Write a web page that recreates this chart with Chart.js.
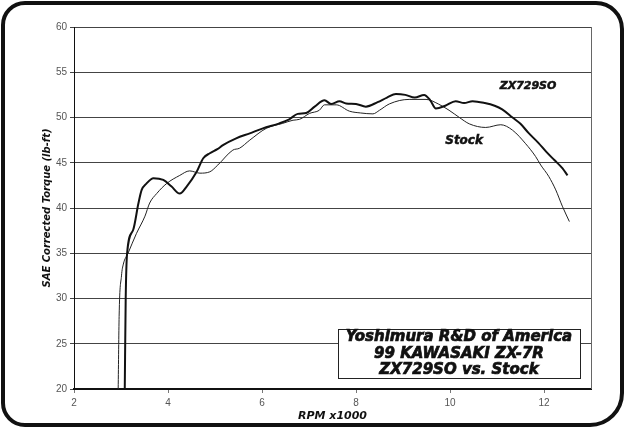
<!DOCTYPE html>
<html>
<head>
<meta charset="utf-8">
<script src="https://cdn.jsdelivr.net/npm/chart.js@4.4.0/dist/chart.umd.min.js"></script>
<style>
  html, body { margin: 0; padding: 0; background: #fff; }
  canvas { display: block; }
</style>
</head>
<body>
<canvas id="dynoChart" width="625" height="429"></canvas>
<script>
// ZX729SO (pipe) run
const zxRpm = [3.08, 3.10, 3.13, 3.26, 3.37, 3.44, 3.54, 3.69, 3.90, 4.07, 4.25, 4.40, 4.61, 4.75, 4.89, 5.05, 5.17, 5.45, 5.74, 6.02, 6.37, 6.58, 6.76, 6.94, 7.12, 7.33, 7.47, 7.65, 7.79, 8.00, 8.21, 8.46, 8.66, 8.85, 9.05, 9.25, 9.45, 9.58, 9.70, 9.90, 10.12, 10.30, 10.48, 10.74, 10.95, 11.11, 11.33, 11.50, 11.67, 11.88, 12.05, 12.22, 12.39, 12.50];
const zxTorque = [20, 30, 35.0, 37.6, 40.5, 42.0, 42.7, 43.3, 43.1, 42.4, 41.6, 42.4, 44.0, 45.5, 46.05, 46.5, 46.95, 47.7, 48.25, 48.8, 49.35, 49.8, 50.4, 50.5, 51.2, 51.9, 51.5, 51.8, 51.55, 51.5, 51.2, 51.7, 52.2, 52.6, 52.5, 52.2, 52.5, 51.9, 51.0, 51.3, 51.8, 51.6, 51.8, 51.6, 51.3, 50.9, 50.0, 49.3, 48.3, 47.2, 46.2, 45.3, 44.4, 43.6];

// Stock run
const stockRpm = [2.94, 2.96, 3.01, 3.05, 3.15, 3.33, 3.51, 3.61, 3.76, 3.97, 4.25, 4.46, 4.68, 4.89, 5.06, 5.38, 5.52, 5.74, 6.09, 6.44, 6.66, 6.80, 7.01, 7.22, 7.33, 7.58, 7.86, 8.10, 8.36, 8.50, 8.71, 9.13, 9.49, 9.75, 9.98, 10.20, 10.41, 10.76, 11.08, 11.33, 11.61, 11.82, 11.93, 12.10, 12.25, 12.39, 12.54];
const stockTorque = [20, 28, 32.5, 33.8, 35.0, 37.2, 39.1, 40.55, 41.6, 42.7, 43.6, 44.1, 43.85, 44.0, 44.75, 46.4, 46.6, 47.5, 48.8, 49.35, 49.7, 49.8, 50.45, 50.8, 51.4, 51.4, 50.7, 50.5, 50.4, 50.8, 51.5, 52.0, 52.0, 51.5, 50.8, 50.0, 49.3, 48.9, 49.2, 48.6, 47.1, 45.7, 44.75, 43.5, 42.0, 40.2, 38.5];

const boxLines = ['Yoshimura R&D of America', '99 KAWASAKI ZX-7R', 'ZX729SO vs. Stock'];
const heavyFont = '"DejaVu Sans", sans-serif';

function toPoints(xs, ys) {
    return xs.map((x, i) => ({ x: x, y: ys[i] }));
}

// texto con trazo extra para que se vea mas grueso
function heavyText(ctx, text, x, y, stroke) {
    ctx.lineWidth = stroke;
    ctx.strokeStyle = '#111';
    ctx.strokeText(text, x, y);
    ctx.fillText(text, x, y);
}

// marco redondeado, borde derecho del area, etiquetas y recuadro
const decorations = {
    id: 'decorations',
    afterDraw(chart) {
        const ctx = chart.ctx;
        const area = chart.chartArea;
        const xs = chart.scales.x;
        const ys = chart.scales.y;
        ctx.save();

        ctx.strokeStyle = '#666';
        ctx.lineWidth = 1;
        ctx.beginPath();
        ctx.moveTo(area.right + 0.5, area.top);
        ctx.lineTo(area.right + 0.5, area.bottom);
        ctx.stroke();

        ctx.fillStyle = '#111';
        ctx.textAlign = 'center';
        ctx.textBaseline = 'middle';
        ctx.font = 'italic bold 11px ' + heavyFont;
        heavyText(ctx, 'ZX729SO', xs.getPixelForValue(11.66), ys.getPixelForValue(53.45), 0.5);
        ctx.font = 'italic bold 12px ' + heavyFont;
        heavyText(ctx, 'Stock', xs.getPixelForValue(10.3), ys.getPixelForValue(47.4), 0.5);

        // recuadro de titulo
        const bx = 338, by = 329, bw = 242, bh = 49;
        ctx.fillStyle = '#fff';
        ctx.fillRect(bx, by, bw, bh);
        ctx.strokeStyle = '#222';
        ctx.lineWidth = 1;
        ctx.strokeRect(bx + 0.5, by + 0.5, bw, bh);
        ctx.fillStyle = '#111';
        ctx.font = 'italic bold 15px ' + heavyFont;
        boxLines.forEach((t, i) => {
            heavyText(ctx, t, bx + bw / 2, by + 8.5 + i * 16.5, 0.7);
        });

        ctx.strokeStyle = '#111';
        ctx.lineWidth = 4;
        ctx.beginPath();
        ctx.roundRect(3, 3, 619, 422, [22, 26, 32, 22]);
        ctx.stroke();
        ctx.restore();
    }
};

const ctx = document.getElementById('dynoChart').getContext('2d');
new Chart(ctx, {
    type: 'line',
    data: {
        datasets: [{
            label: 'ZX729SO',
            data: toPoints(zxRpm, zxTorque),
            borderColor: '#111',
            borderWidth: 2,
            pointRadius: 0,
            fill: false,
            cubicInterpolationMode: 'monotone'
        }, {
            label: 'Stock',
            data: toPoints(stockRpm, stockTorque),
            borderColor: '#222',
            borderWidth: 1,
            pointRadius: 0,
            fill: false,
            cubicInterpolationMode: 'monotone'
        }]
    },
    options: {
        responsive: false,
        animation: false,
        layout: { padding: { left: 0, top: 27, right: 34, bottom: 0 } },
        plugins: {
            legend: { display: false },
            tooltip: { enabled: false }
        },
        scales: {
            x: {
                type: 'linear',
                min: 2,
                max: 13,
                afterFit(scale) { scale.height = 40; },
                border: { color: '#111', width: 2 },
                grid: { drawOnChartArea: false, drawTicks: true, tickLength: 4, color: '#777' },
                ticks: {
                    stepSize: 2,
                    includeBounds: false,
                    padding: 4,
                    color: '#555',
                    font: { family: '"Liberation Sans", Arial, sans-serif', size: 10 }
                },
                title: {
                    display: true,
                    text: 'RPM x1000',
                    color: '#111',
                    padding: { top: 0, bottom: 6 },
                    font: { family: heavyFont, size: 11, weight: 'bold', style: 'italic' }
                }
            },
            y: {
                min: 20,
                max: 60,
                afterFit(scale) { scale.width = 74; },
                border: { color: '#111', width: 1 },
                grid: { color: '#444', lineWidth: 1, tickLength: 4 },
                ticks: {
                    stepSize: 5,
                    padding: 3,
                    color: '#555',
                    font: { family: '"Liberation Sans", Arial, sans-serif', size: 10 }
                },
                title: {
                    display: true,
                    text: 'SAE Corrected Torque (lb-ft)',
                    color: '#111',
                    padding: { top: 41, bottom: 0 },
                    font: { family: heavyFont, size: 10, weight: 'bold', style: 'italic' }
                }
            }
        }
    },
    plugins: [decorations]
});
</script>
</body>
</html>
